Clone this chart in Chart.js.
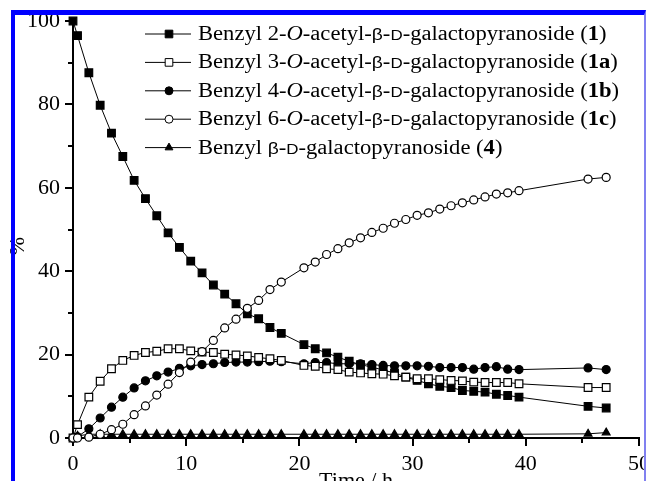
<!DOCTYPE html>
<html><head><meta charset="utf-8">
<script src="https://cdn.jsdelivr.net/npm/chart.js@4.4.0/dist/chart.umd.min.js"></script>
<style>
html,body{margin:0;padding:0;background:#fff;overflow:hidden}
#wrap{position:relative;width:646px;height:481px}
#frame{position:absolute;left:11px;top:10px;width:629px;height:466px;border-left:4px solid #0000ff;border-top:5px solid #0000ff;border-right:2px solid #8080f0;pointer-events:none}
</style></head>
<body>
<div id="wrap"><canvas id="c" width="646" height="481"></canvas><div id="frame"></div></div>
<script>
// ---- data ----
const times = [0, 0.4, 1.4, 2.4, 3.4, 4.4, 5.4, 6.4, 7.4, 8.4, 9.4, 10.4, 11.4, 12.4, 13.4, 14.4, 15.4, 16.4, 17.4, 18.4,
  20.4, 21.4, 22.4, 23.4, 24.4, 25.4, 26.4, 27.4, 28.4, 29.4, 30.4, 31.4, 32.4, 33.4, 34.4, 35.4, 36.4, 37.4, 38.4, 39.4, 45.5, 47.1];
const s1  = [100, 96.5, 87.6, 79.8, 73.1, 67.5, 61.8, 57.4, 53.3, 49.2, 45.7, 42.4, 39.6, 36.7, 34.5, 32.2, 29.8, 28.6, 26.5, 25.1,
  22.4, 21.4, 20.4, 19.4, 18.4, 17.6, 17.0, 16.3, 15.6, 14.6, 13.8, 13.0, 12.4, 12.1, 11.4, 11.2, 11.0, 10.5, 10.2, 9.8, 7.6, 7.2];
const s1a = [0, 3.2, 9.8, 13.6, 16.6, 18.6, 19.8, 20.5, 20.8, 21.4, 21.4, 20.9, 20.6, 20.5, 20.1, 19.9, 19.7, 19.3, 19.0, 18.6,
  17.4, 17.2, 16.6, 16.4, 15.8, 15.6, 15.4, 15.3, 14.9, 14.6, 14.2, 14.2, 14.0, 13.8, 13.7, 13.4, 13.3, 13.3, 13.3, 13.0, 12.1, 12.1];
const s1b = [0, 0.3, 2.2, 4.8, 7.4, 9.8, 12.0, 13.7, 14.9, 15.8, 16.7, 17.3, 17.6, 17.8, 18.1, 18.2, 18.2, 18.3, 18.4, 18.3,
  17.8, 18.1, 18.1, 17.8, 17.8, 17.8, 17.6, 17.4, 17.3, 17.3, 17.3, 17.2, 16.9, 16.9, 16.9, 16.5, 16.9, 17.1, 16.5, 16.4, 16.8, 16.4];
const s1c = [0, 0, 0.2, 0.9, 2.0, 3.3, 5.6, 7.7, 10.3, 12.9, 15.7, 18.2, 20.7, 23.4, 26.4, 28.5, 31.1, 33.0, 35.6, 37.4,
  40.8, 42.2, 44.0, 45.4, 46.8, 48.0, 49.3, 50.3, 51.5, 52.4, 53.4, 54.0, 54.9, 55.7, 56.4, 57.1, 57.8, 58.5, 58.8, 59.3, 62.1, 62.5];
const s4  = [0, 0.5, 0.9, 0.9, 0.9, 0.9, 0.9, 0.9, 0.9, 0.9, 0.9, 0.9, 0.9, 0.9, 0.9, 0.9, 0.9, 0.9, 0.9, 0.9,
  0.9, 0.9, 0.9, 0.9, 0.9, 0.9, 0.9, 0.9, 0.9, 0.9, 0.9, 0.9, 0.9, 0.9, 0.9, 0.9, 0.9, 0.9, 0.9, 0.9, 1.0, 1.3];
const seriesNames = [
  'Benzyl 2-{i:O}-acetyl-{g:β}-{sc:D}-galactopyranoside ({b:1})',
  'Benzyl 3-{i:O}-acetyl-{g:β}-{sc:D}-galactopyranoside ({b:1a})',
  'Benzyl 4-{i:O}-acetyl-{g:β}-{sc:D}-galactopyranoside ({b:1b})',
  'Benzyl 6-{i:O}-acetyl-{g:β}-{sc:D}-galactopyranoside ({b:1c})',
  'Benzyl {g:β}-{sc:D}-galactopyranoside ({b:4})'
];
const xTicks = [0, 10, 20, 30, 40, 50];
const yTicks = [0, 20, 40, 60, 80, 100];
const xMinorTicks = [5, 15, 25, 35, 45];
const yMinorTicks = [10, 30, 50, 70, 90];
const xTitle = 'Time / h';
const yTitle = '%      ';

// ---- styles ----
const SERIF = 'Liberation Serif, Times New Roman, serif';
const SANS = 'Liberation Sans, Arial, sans-serif';
const LEG = {x0: 145, x1: 191, xm: 169, xt: 198, y0: 34, dy: 28.4, fs: 20, stretch: 1.13};

const styles = [
  {pointStyle: 'rect', pointRadius: 5.4, fill: '#000', order: 4},
  {pointStyle: 'rect', pointRadius: 5.4, fill: '#fff', order: 2},
  {pointStyle: 'circle', pointRadius: 4, fill: '#000', order: 3},
  {pointStyle: 'circle', pointRadius: 4, fill: '#fff', order: 1},
  {pointStyle: 'triangle', pointRadius: 4.5, fill: '#000', order: 5}
];
const series = [s1, s1a, s1b, s1c, s4];

const plainName = s => s.replace(/\{\w+:([^}]*)\}/g, '$1');

const datasets = series.map((vals, i) => ({
  label: plainName(seriesNames[i]),
  data: times.map((t, j) => ({x: t, y: vals[j]})),
  borderColor: '#000', borderWidth: 1, tension: 0, fill: false,
  pointStyle: styles[i].pointStyle, pointRadius: styles[i].pointRadius,
  pointBackgroundColor: styles[i].fill, pointBorderColor: '#000', pointBorderWidth: 1.2,
  order: styles[i].order, clip: false
}));

function segFont(kind) {
  switch (kind) {
    case 'i': return 'italic ' + LEG.fs + 'px ' + SERIF;
    case 'b': return 'bold ' + LEG.fs + 'px ' + SERIF;
    case 'g': return '17px ' + SANS;
    case 'sc': return '15px ' + SANS;
    default: return LEG.fs + 'px ' + SERIF;
  }
}
function parseSegs(s) {
  const out = []; const re = /\{(\w+):([^}]*)\}/g; let last = 0, m;
  while ((m = re.exec(s))) {
    if (m.index > last) out.push({k: 'n', t: s.slice(last, m.index)});
    out.push({k: m[1], t: m[2]}); last = re.lastIndex;
  }
  if (last < s.length) out.push({k: 'n', t: s.slice(last)});
  return out;
}

const richLegend = {
  id: 'richLegend',
  afterDraw(chart) {
    const ctx = chart.ctx;
    chart.data.datasets.forEach((ds, i) => {
      const y = LEG.y0 + i * LEG.dy;
      ctx.save();
      ctx.strokeStyle = '#000'; ctx.lineWidth = 1;
      ctx.beginPath(); ctx.moveTo(LEG.x0, y); ctx.lineTo(LEG.x1, y); ctx.stroke();
      ctx.fillStyle = ds.pointBackgroundColor; ctx.strokeStyle = '#000';
      Chart.helpers.drawPoint(ctx, {pointStyle: ds.pointStyle, radius: ds.pointRadius, borderWidth: 1.2, rotation: 0}, LEG.xm, y);
      ctx.fillStyle = '#000'; ctx.textBaseline = 'alphabetic'; ctx.textAlign = 'left';
      ctx.translate(LEG.xt, y + 6);
      ctx.scale(LEG.stretch, 1);
      let x = 0;
      parseSegs(seriesNames[i]).forEach(sg => {
        ctx.font = segFont(sg.k);
        ctx.fillText(sg.t, x, 0);
        x += ctx.measureText(sg.t).width;
      });
      ctx.restore();
    });
  }
};

const minorTicks = {
  id: 'minorTicks',
  afterDraw(chart) {
    const ctx = chart.ctx, xs = chart.scales.x, ys = chart.scales.y, ca = chart.chartArea;
    ctx.save(); ctx.strokeStyle = '#000'; ctx.lineWidth = 2;
    xMinorTicks.forEach(v => { const p = Math.round(xs.getPixelForValue(v)); ctx.beginPath(); ctx.moveTo(p, ca.bottom); ctx.lineTo(p, ca.bottom + 5); ctx.stroke(); });
    yMinorTicks.forEach(v => { const p = Math.round(ys.getPixelForValue(v)); ctx.beginPath(); ctx.moveTo(ca.left, p); ctx.lineTo(ca.left - 5, p); ctx.stroke(); });
    ctx.restore();
  }
};

new Chart(document.getElementById('c'), {
  type: 'line',
  data: {datasets},
  plugins: [minorTicks, richLegend],
  options: {
    responsive: false, animation: false, devicePixelRatio: 1,
    layout: {padding: {top: 21, right: 7, left: 0, bottom: 0}},
    plugins: {legend: {display: false}, tooltip: {enabled: false}},
    scales: {
      x: {
        type: 'linear', min: 0, max: 50, position: 'bottom',
        afterBuildTicks: s => { s.ticks = xTicks.map(v => ({value: v})); },
        ticks: {color: '#000', font: {family: SERIF, size: 22}, padding: 5, maxRotation: 0, autoSkip: false},
        grid: {drawOnChartArea: false, drawTicks: true, tickLength: 8, color: '#000', lineWidth: 2},
        border: {display: true, color: '#000', width: 2},
        title: {display: true, text: xTitle, color: '#000', font: {family: SERIF, size: 22}, padding: {top: 0, bottom: -13}},
        afterFit: s => { s.height = 43; s.paddingLeft = 0; s.paddingRight = 0; }
      },
      y: {
        type: 'linear', min: 0, max: 100, position: 'left',
        afterBuildTicks: s => { s.ticks = yTicks.map(v => ({value: v})); },
        ticks: {color: '#000', font: {family: SERIF, size: 22}, padding: 5},
        grid: {drawOnChartArea: false, drawTicks: true, tickLength: 8, color: '#000', lineWidth: 2},
        border: {display: true, color: '#000', width: 2},
        title: {display: true, text: yTitle, color: '#000', font: {family: SERIF, size: 22}, padding: {top: 5, bottom: 0}},
        afterFit: s => { s.width = 73; s.paddingTop = 0; s.paddingBottom = 0; }
      }
    }
  }
});
</script>
</body></html>
